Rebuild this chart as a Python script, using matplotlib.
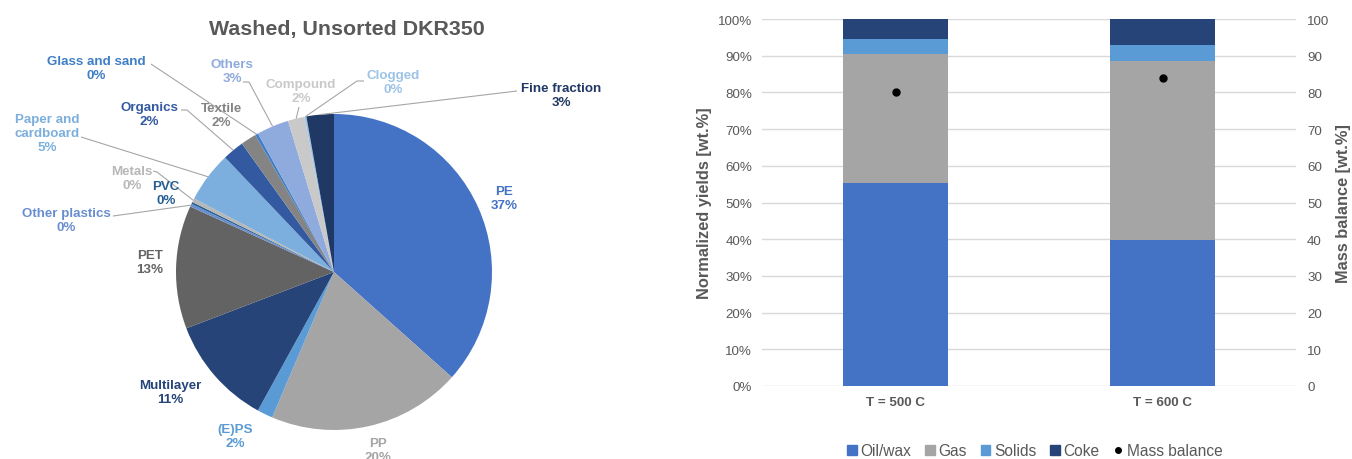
import matplotlib.pyplot as plt
from matplotlib.patches import Patch
from matplotlib.lines import Line2D
import numpy as np

plt.rcParams['font.family'] = ['Liberation Sans', 'DejaVu Sans']

# Composition of the washed, unsorted DKR350 fraction (wt.%)
materials = ['PE', 'PP', '(E)PS', 'Multilayer', 'PET', 'Other plastics', 'PVC', 'Metals',
             'Paper and\ncardboard', 'Organics', 'Textile', 'Glass and sand', 'Others',
             'Compound', 'Clogged', 'Fine fraction']
shares = [36.6, 19.8, 1.6, 11.2, 12.6, 0.3, 0.2, 0.4, 5.2, 2.2, 1.6, 0.3, 3.3, 1.7, 0.2, 2.8]
pie_colors = ['#4472C4', '#A5A5A5', '#5B9BD5', '#264478', '#636363', '#698ED0', '#255E91',
              '#B7B7B7', '#7CAFDD', '#335AA1', '#848484', '#3F7FC6', '#8FAADC', '#C9C9C9',
              '#9DC3E6', '#203864']

# Pyrolysis product yields (normalized, wt.%) and mass balance
temperatures = ['T = 500 C', 'T = 600 C']
oil_wax = [55.3, 39.7]
gas = [35.2, 48.8]
solids = [4.0, 4.5]
coke = [5.5, 7.0]
mass_balance = [80.2, 83.8]

# pie label placement in pixels (x, y) and leader line start points
label_px = [(504, 199), (378, 451), (235, 437), (170, 393), (150, 263), (66, 221),
            (166, 194), (132, 179), (47, 134), (149, 115), (221, 116), (96, 69),
            (232, 72), (301, 92), (393, 83), (561, 96)]
leaders = {5: [(113, 217)], 7: [(153, 172), (157, 173)], 8: [(81, 138)],
           9: [(181, 111), (187, 111)], 11: [(151, 65)], 12: [(243, 83), (249, 83)],
           13: [(299, 108)], 14: [(364, 82), (357, 82)], 15: [(517, 92)]}

W, H = 1352, 460
fig = plt.figure(figsize=(W / 100, H / 100), dpi=100)

# ---- pie chart ----
cx, cy, R = 334, 273, 158
axp = fig.add_axes([0, 0, 676 / W, 1])
wedges, _ = axp.pie(shares, colors=pie_colors, startangle=90, counterclock=False,
                    radius=1.0, wedgeprops=dict(linewidth=0))
axp.set_xlim(-cx / R, (676 - cx) / R)
axp.set_ylim((cy - H) / R, cy / R)
axp.axis('off')


def to_data(px, py):
    return (px - cx) / R, (cy - py) / R


for i, (name, val, col, w) in enumerate(zip(materials, shares, pie_colors, wedges)):
    lx, ly = to_data(*label_px[i])
    axp.text(lx, ly, f'{name}\n{round(val):d}%', color=col, fontsize=9.6,
             fontweight='bold', ha='center', va='center', linespacing=1.25)
    if i in leaders:
        mid = np.deg2rad((w.theta1 + w.theta2) / 2)
        pts = [to_data(*p) for p in leaders[i]] + [(np.cos(mid), np.sin(mid))]
        xs, ys = zip(*pts)
        axp.plot(xs, ys, color='#A6A6A6', lw=0.8, solid_capstyle='butt')

fig.text(347 / W, 1 - 29 / H, 'Washed, Unsorted DKR350', fontsize=15.4,
         fontweight='bold', color='#595959', ha='center', va='center')

# ---- stacked yields ----
ax = fig.add_axes([762 / W, 73 / H, 534 / W, 367 / H])
x = np.arange(len(temperatures))
bw = 0.395
bottom = np.zeros(len(x))
for vals, col, lab in [(oil_wax, '#4472C4', 'Oil/wax'), (gas, '#A5A5A5', 'Gas'),
                       (solids, '#5B9BD5', 'Solids'), (coke, '#264478', 'Coke')]:
    ax.bar(x, vals, bw, bottom=bottom, color=col, label=lab, zorder=2)
    bottom += np.array(vals)

ax.set_xlim(-0.5, 1.5)
ax.set_ylim(0, 100)
ax.set_yticks(np.arange(0, 101, 10))
ax.set_yticklabels([f'{v}%' for v in range(0, 101, 10)])
ax.set_xticks(x)
ax.set_xticklabels(temperatures, fontweight='bold')
ax.yaxis.grid(True, color='#D9D9D9', lw=1.0, zorder=0)
ax.set_axisbelow(True)
for s in ax.spines.values():
    s.set_visible(False)
ax.tick_params(axis='both', length=0, labelsize=9.6, labelcolor='#595959')
ax.tick_params(axis='y', pad=7)
ax.tick_params(axis='x', pad=7)
ax.set_ylabel('Normalized yields [wt.%]', fontsize=11.8, fontweight='bold', color='#595959')
ax.yaxis.set_label_coords((712 - 762) / 534, 0.5)

ax2 = ax.twinx()
ax2.set_ylim(0, 100)
ax2.set_yticks(np.arange(0, 101, 10))
ax2.plot(x, mass_balance, 'o', color='black', ms=5, ls='none', label='Mass balance')
for s in ax2.spines.values():
    s.set_visible(False)
ax2.tick_params(axis='y', length=0, labelsize=9.6, labelcolor='#595959', pad=8)
ax2.set_ylabel('Mass balance [wt.%]', fontsize=11.8, fontweight='bold', color='#595959')
ax2.yaxis.set_label_coords((1336 - 762) / 534, 0.5)

handles = [Patch(color=c) for c in ['#4472C4', '#A5A5A5', '#5B9BD5', '#264478']]
handles.append(Line2D([], [], marker='o', color='black', ls='none', ms=4))
ax.legend(handles, ['Oil/wax', 'Gas', 'Solids', 'Coke', 'Mass balance'],
          loc='center', bbox_to_anchor=((1035 - 762) / 534, (387 - 452) / 367),
          ncol=5, frameon=False, fontsize=11.2, labelcolor='#595959',
          handlelength=0.6, handleheight=0.6, handletextpad=0.25, columnspacing=0.9)

fig.savefig('out.png', dpi=100)
